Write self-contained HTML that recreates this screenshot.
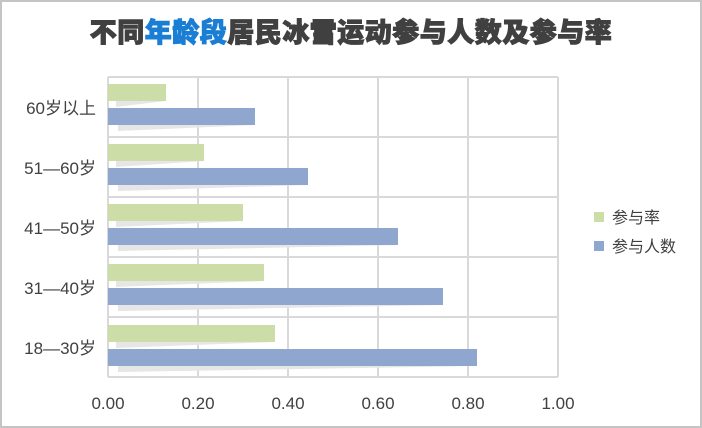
<!DOCTYPE html>
<html><head><meta charset="utf-8"><style>
html,body{margin:0;padding:0;background:#fff}
.f{position:absolute;left:0;top:0;width:698px;height:424px;border:2px solid #c4c4c4;background:#fff}
</style></head><body>
<div class="f"></div>
<svg width="702" height="428" style="position:absolute;left:0;top:0" font-family="Liberation Sans, Noto Sans CJK SC, sans-serif">
<text x="351" y="42" text-anchor="middle" font-size="27" font-weight="900" fill="#404040" stroke="#404040" stroke-width="1" letter-spacing="0.5" font-family="Liberation Sans, Noto Sans CJK SC, sans-serif">不同<tspan fill="#1a7fd4" stroke="#1a7fd4">年龄段</tspan>居民冰雪运动参与人数及参与率</text>
<g stroke="#d9d9d9" stroke-width="2" fill="none">
<line x1="108" y1="77" x2="108" y2="377"/><line x1="198" y1="77" x2="198" y2="377"/><line x1="288" y1="77" x2="288" y2="377"/><line x1="378" y1="77" x2="378" y2="377"/><line x1="468" y1="77" x2="468" y2="377"/><line x1="558" y1="77" x2="558" y2="377"/>
<line x1="108" y1="77" x2="558" y2="77"/><line x1="108" y1="137" x2="558" y2="137"/><line x1="108" y1="197" x2="558" y2="197"/><line x1="108" y1="257" x2="558" y2="257"/><line x1="108" y1="317" x2="558" y2="317"/><line x1="108" y1="377" x2="558" y2="377"/>
</g>
<g id="bars">
<g transform="translate(0,77)"><polygon points="116,24 166,24 116,30" fill="#e6e6e6"/><rect x="108" y="7" width="58" height="17" fill="#cddda7"/><polygon points="118,48 255,48 118,54" fill="#e6e6e6"/><rect x="108" y="31" width="147" height="17" fill="#8fa7cf"/></g>
<g transform="translate(0,137)"><polygon points="116,24 204,24 116,30" fill="#e6e6e6"/><rect x="108" y="7" width="96" height="17" fill="#cddda7"/><polygon points="118,48 308,48 118,54" fill="#e6e6e6"/><rect x="108" y="31" width="200" height="17" fill="#8fa7cf"/></g>
<g transform="translate(0,197)"><polygon points="116,24 243,24 116,30" fill="#e6e6e6"/><rect x="108" y="7" width="135" height="17" fill="#cddda7"/><polygon points="118,48 398,48 118,54" fill="#e6e6e6"/><rect x="108" y="31" width="290" height="17" fill="#8fa7cf"/></g>
<g transform="translate(0,257)"><polygon points="116,24 264,24 116,30" fill="#e6e6e6"/><rect x="108" y="7" width="156" height="17" fill="#cddda7"/><polygon points="118,48 443,48 118,54" fill="#e6e6e6"/><rect x="108" y="31" width="335" height="17" fill="#8fa7cf"/></g>
<g transform="translate(0,317)"><polygon points="116,25 275,25 116,31" fill="#e6e6e6"/><rect x="108" y="8" width="167" height="17" fill="#cddda7"/><polygon points="118,49 477,49 118,55" fill="#e6e6e6"/><rect x="108" y="32" width="369" height="17" fill="#8fa7cf"/></g>
</g>
<g font-size="17" fill="#404040" text-anchor="end">
<text x="96" y="114">60岁以上</text><text x="96" y="174">51—60岁</text><text x="96" y="234">41—50岁</text><text x="96" y="294">31—40岁</text><text x="96" y="354">18—30岁</text>
</g>
<g font-size="17" fill="#404040" text-anchor="middle">
<text x="108" y="409">0.00</text><text x="198" y="409">0.20</text><text x="288" y="409">0.40</text><text x="378" y="409">0.60</text><text x="468" y="409">0.80</text><text x="558" y="409">1.00</text>
</g>
<rect x="594" y="212" width="10" height="10" fill="#cddda7"/>
<text x="612" y="223" font-size="16" fill="#404040">参与率</text>
<rect x="594" y="241" width="10" height="10" fill="#8fa7cf"/>
<text x="612" y="252" font-size="16" fill="#404040">参与人数</text>
</svg>
</body></html>
